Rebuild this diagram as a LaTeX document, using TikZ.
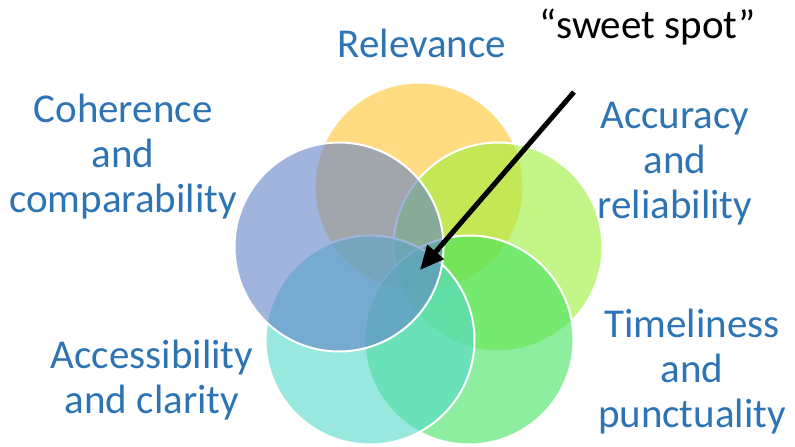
\documentclass[tikz,border=0pt]{standalone}
\usepackage{fontspec}
\setmainfont{Carlito}
\usetikzlibrary{arrows.meta}
\definecolor{relyellow}{RGB}{255,197,47}
\definecolor{accgreen}{RGB}{155,238,55}
\definecolor{timgreen}{RGB}{67,227,97}
\definecolor{acccyan}{RGB}{83,217,203}
\definecolor{cohblue}{RGB}{97,130,200}
\definecolor{labelblue}{RGB}{46,116,181}
\newcommand\Petal[3]{
	\node [petal, fill=#3] (#1) at (#2) {};
}
\newcommand\Dim[2]{
	\node [dim, anchor=base] (#1) at (#2)
}

\begin{document}
\begin{tikzpicture}[x=1pt, y=-1pt,
	petal/.style={circle, minimum size=209pt, inner sep=0pt, fill opacity=0.6, draw=white, line width=2pt},
	dim/.style={text=labelblue, align=center, inner sep=0pt, font=\fontsize{41}{45}\selectfont}]
	\useasboundingbox (0,0) rectangle (795,447);
	\Petal{relevance}{419,187}{relyellow}
	\Petal{accuracy}{498,247}{accgreen}
	\Petal{timeliness}{469,340}{timgreen}
	\Petal{accessibility}{370,340}{acccyan}
	\Petal{coherence}{339,247}{cohblue}
	% base anchor = last line
	\Dim{reltext}{422,57} {Relevance};
	\Dim{cohtext}{123,212} {Coherence\\and\\comparability};
	\Dim{acctext}{675,218} {Accuracy\\and\\reliability};
	\Dim{timtext}{692,427} {Timeliness\\and\\punctuality};
	\Dim{clatext}{152,413} {Accessibility\\and clarity};
	\node [anchor=base, inner sep=0pt, font=\fontsize{41}{45}\selectfont] (sweet) at (648,38) {“sweet spot”};
	\coordinate (tail) at (574,92);
	\coordinate (spot) at (420,270);
	\path [draw, line width=5pt, -{Triangle[length=24pt, width=21pt]}] (tail) -- (spot);
\end{tikzpicture}
\end{document}
